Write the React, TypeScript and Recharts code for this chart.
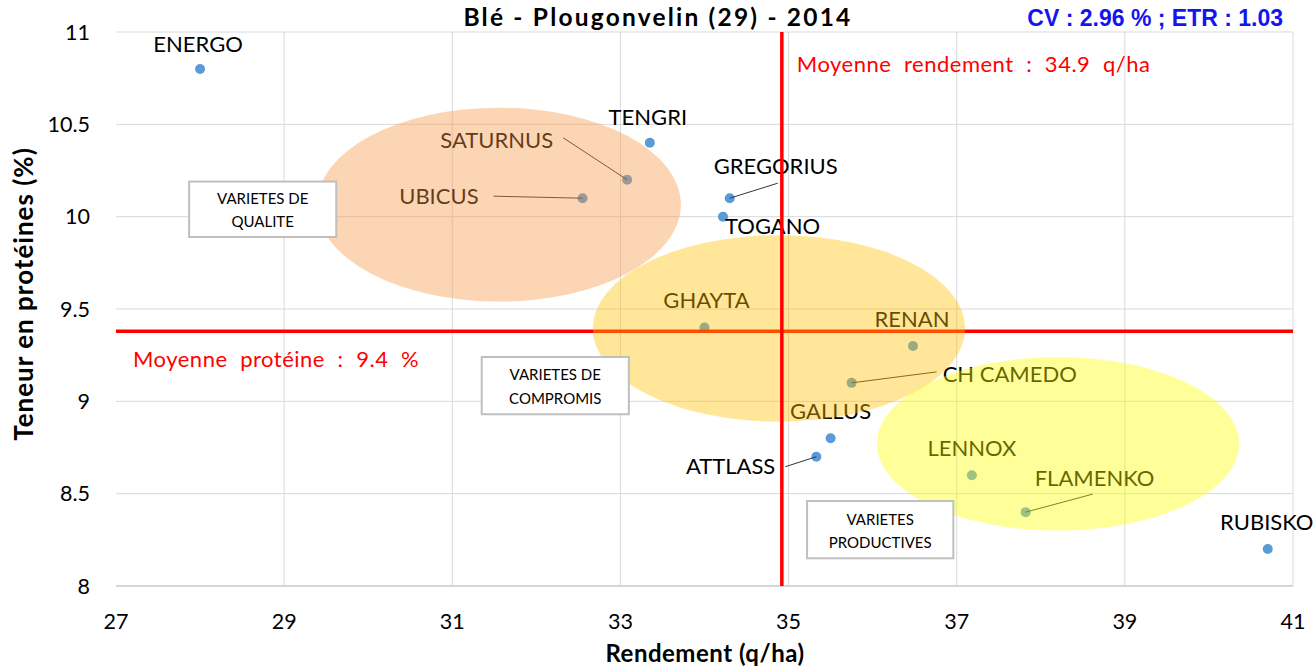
import React from 'react';
import { ScatterChart, Scatter, XAxis, YAxis, CartesianGrid, ReferenceLine, ReferenceArea } from 'recharts';

// ---- data ----
const varieties = ['ENERGO', 'TENGRI', 'SATURNUS', 'UBICUS', 'GREGORIUS', 'TOGANO', 'GHAYTA', 'RENAN', 'CH CAMEDO', 'GALLUS', 'ATTLASS', 'LENNOX', 'FLAMENKO', 'RUBISKO'];
const rendement = [28.0, 33.35, 33.08, 32.55, 34.3, 34.22, 34.0, 36.48, 35.75, 35.5, 35.33, 37.18, 37.82, 40.7];
const proteine = [10.8, 10.4, 10.2, 10.1, 10.1, 10.0, 9.4, 9.3, 9.1, 8.8, 8.7, 8.6, 8.4, 8.2];

const xTicks = [27, 29, 31, 33, 35, 37, 39, 41];
const yTicks = [8, 8.5, 9, 9.5, 10, 10.5, 11];
const gridXValues = [29, 31, 33, 35, 37, 39, 41];

const meanRendement = 34.92;
const meanProteine = 9.38;
const meanRendementLabel = 'Moyenne rendement : 34.9 q/ha';
const meanProteineLabel = 'Moyenne protéine : 9.4 %';

// groups (ellipses), in data units
const groupX1 = [29.39, 32.67, 36.05];
const groupX2 = [33.72, 37.1, 40.36];
const groupY1 = [9.54, 8.89, 8.3];
const groupY2 = [10.59, 9.9, 9.24];

// text boxes, in data units
const boxLine1 = ['VARIETES DE', 'VARIETES DE', 'VARIETES'];
const boxLine2 = ['QUALITE', 'COMPROMIS', 'PRODUCTIVES'];
const boxX1 = [27.87, 31.35, 35.22];
const boxX2 = [29.62, 33.1, 36.96];
const boxY1 = [9.89, 8.93, 8.15];
const boxY2 = [10.19, 9.24, 8.46];

const titleText = 'Blé - Plougonvelin (29) - 2014';
const statsText = 'CV : 2.96 % ; ETR : 1.03';
const xTitle = 'Rendement (q/ha)';
const yTitle = 'Teneur en protéines (%)';

// ---- styles / layout ----
const groupFill = ['#F79646', '#FFC000', '#FFFF00'];
const groupOpacity = 0.4;
const FONT = 'Lato, "Open Sans", sans-serif';

const labelLayout: Record<string, { dx: number; dy: number; anchor: string; lead?: [number, number] }> = {
  ENERGO: { dx: -2, dy: -17, anchor: 'middle' },
  TENGRI: { dx: -2, dy: -18, anchor: 'middle' },
  SATURNUS: { dx: -74, dy: -32, anchor: 'end', lead: [-64, -42] },
  UBICUS: { dx: -104, dy: 6, anchor: 'end', lead: [-89, -2] },
  GREGORIUS: { dx: -16, dy: -24, anchor: 'start', lead: [48, -15] },
  TOGANO: { dx: 2, dy: 17, anchor: 'start' },
  GHAYTA: { dx: 2, dy: -19, anchor: 'middle' },
  RENAN: { dx: -1, dy: -19, anchor: 'middle' },
  'CH CAMEDO': { dx: 91, dy: -1, anchor: 'start', lead: [85, -11] },
  GALLUS: { dx: 0, dy: -19, anchor: 'middle' },
  ATTLASS: { dx: -41, dy: 17, anchor: 'end', lead: [-31, 10] },
  LENNOX: { dx: 0, dy: -19, anchor: 'middle' },
  FLAMENKO: { dx: 9, dy: -26, anchor: 'start', lead: [67, -18] },
  RUBISKO: { dx: -1, dy: -19, anchor: 'middle' },
};

const points = varieties.map((name, i) => ({ name, x: rendement[i], y: proteine[i] }));

const PointShape = (props: any) => {
  const { cx, cy, payload } = props;
  const lay = labelLayout[payload?.name] || { dx: 0, dy: -18, anchor: 'middle' };
  return (
    <g>
      <circle cx={cx} cy={cy} r={5} fill="#5B9BD5" />
      {lay.lead && (
        <line x1={cx + lay.lead[0]} y1={cy + lay.lead[1]} x2={cx} y2={cy} stroke="#333" strokeWidth={1} />
      )}
      <text x={cx + lay.dx} y={cy + lay.dy} textAnchor={lay.anchor as any} fontFamily={FONT} fontSize={22} fill="#000">
        {payload?.name}
      </text>
    </g>
  );
};

const XTick = (props: any) => {
  const { x, y, payload } = props;
  return (
    <text x={x} y={y + 43} textAnchor="middle" fontFamily={FONT} fontSize={21.5} fill="#000">
      {String(payload.value)}
    </text>
  );
};

const YTick = (props: any) => {
  const { x, y, payload } = props;
  return (
    <text x={x - 26} y={y + 7.5} textAnchor="end" fontFamily={FONT} fontSize={21.5} fill="#000">
      {String(payload.value)}
    </text>
  );
};

const makeEllipse = (i: number) => (p: any) => (
  <ellipse
    cx={p.x + p.width / 2}
    cy={p.y + p.height / 2}
    rx={Math.abs(p.width) / 2}
    ry={Math.abs(p.height) / 2}
    fill={groupFill[i]}
    fillOpacity={groupOpacity}
    stroke="none"
  />
);

const makeBox = (i: number) => (p: any) => {
  const cx = p.x + p.width / 2;
  return (
    <g>
      <rect x={p.x} y={p.y} width={p.width} height={p.height} fill="#fff" stroke="#bfbfbf" strokeWidth={2} />
      <text x={cx} y={p.y + p.height * 0.41} textAnchor="middle" fontFamily={FONT} fontSize={15} fill="#000">
        {boxLine1[i]}
      </text>
      <text x={cx} y={p.y + p.height * 0.82} textAnchor="middle" fontFamily={FONT} fontSize={15} fill="#000">
        {boxLine2[i]}
      </text>
    </g>
  );
};

const VLabel = (p: any) => {
  const vb = p.viewBox || {};
  return (
    <text x={vb.x + 15} y={vb.y + 40} fontFamily={FONT} fontSize={22} fill="#FF0000" letterSpacing={0.5} wordSpacing={6.5}>
      {meanRendementLabel}
    </text>
  );
};

const HLabel = (p: any) => {
  const vb = p.viewBox || {};
  return (
    <text x={vb.x + 17} y={vb.y + 36} fontFamily={FONT} fontSize={22} fill="#FF0000" letterSpacing={0.5} wordSpacing={6.5}>
      {meanProteineLabel}
    </text>
  );
};

export default function App() {
  return (
    <div style={{ position: 'absolute', left: 0, top: 0, width: 1314, height: 669, background: '#fff', overflow: 'hidden' }}>
      <ScatterChart width={1314} height={669} margin={{ top: 32, right: 21, bottom: 0, left: 0 }}>
        <CartesianGrid stroke="#d9d9d9" strokeWidth={1} verticalValues={gridXValues} horizontalValues={yTicks} />
        <XAxis
          type="number"
          dataKey="x"
          domain={[27, 41]}
          ticks={xTicks}
          interval={0}
          height={83}
          tickLine={false}
          tickSize={0}
          tickMargin={0}
          axisLine={{ stroke: '#bfbfbf', strokeWidth: 1 }}
          tick={<XTick />}
        />
        <YAxis
          type="number"
          dataKey="y"
          domain={[8, 11]}
          ticks={yTicks}
          interval={0}
          width={116}
          tickLine={false}
          tickSize={0}
          tickMargin={0}
          axisLine={false}
          tick={<YTick />}
        />
        <Scatter data={points} isAnimationActive={false} shape={<PointShape />} zIndex={600} />
        <ReferenceLine y={meanProteine} stroke="#FF0000" strokeWidth={3.5} label={<HLabel />} zIndex={650} />
        {groupX1.map((_, i) => (
          <ReferenceArea
            key={'g' + i}
            x1={groupX1[i]}
            x2={groupX2[i]}
            y1={groupY1[i]}
            y2={groupY2[i]}
            ifOverflow="visible"
            shape={makeEllipse(i)}
            zIndex={700}
          />
        ))}
        <ReferenceLine x={meanRendement} stroke="#FF0000" strokeWidth={3.5} label={<VLabel />} zIndex={800} />
        {boxX1.map((_, i) => (
          <ReferenceArea
            key={'b' + i}
            x1={boxX1[i]}
            x2={boxX2[i]}
            y1={boxY1[i]}
            y2={boxY2[i]}
            ifOverflow="visible"
            shape={makeBox(i)}
            zIndex={900}
          />
        ))}
      </ScatterChart>
      <svg width={1314} height={669} style={{ position: 'absolute', left: 0, top: 0, pointerEvents: 'none' }}>
        <text x={658} y={26} textAnchor="middle" fontFamily={FONT} fontWeight="bold" fontSize={24.5} letterSpacing={2.2} fill="#000">
          {titleText}
        </text>
        <text x={1283} y={26} textAnchor="end" fontFamily='"Liberation Sans", Arial, sans-serif' fontWeight="bold" fontSize={23} fill="#1414F0">
          {statsText}
        </text>
        <text x={705} y={662} textAnchor="middle" fontFamily={FONT} fontWeight="bold" fontSize={24} letterSpacing={0.5} fill="#000">
          {xTitle}
        </text>
        <text
          x={33}
          y={294}
          textAnchor="middle"
          fontFamily={FONT}
          fontWeight="bold"
          fontSize={26}
          letterSpacing={1}
          fill="#000"
          transform="rotate(-90 33 294)"
        >
          {yTitle}
        </text>
      </svg>
    </div>
  );
}
